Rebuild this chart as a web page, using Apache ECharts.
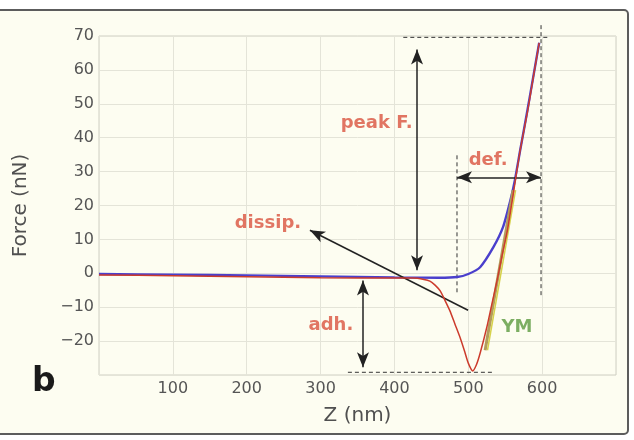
<!DOCTYPE html>
<html>
<head>
<meta charset="utf-8">
<script src="https://cdn.jsdelivr.net/npm/echarts@6/dist/echarts.min.js"></script>
<style>
	html, body { margin: 0; padding: 0; background: #ffffff; }
	#chart { width: 634px; height: 440px; }
</style>
</head>
<body>
<div id="chart"></div>
<script>
// approach curve (blue) : Z (nm) / Force (nN)
var approachZ = [0, 100, 200, 300, 400, 460, 485, 500, 516, 534, 547, 557, 563, 570, 580, 588, 596];
var approachF = [-0.2, -0.4, -0.6, -0.9, -1.2, -1.3, -1.1, -0.2, 1.8, 7.7, 13.6, 21.5, 27.4, 36, 48, 58, 68];

// retract curve (red)
var retractZ = [0, 100, 200, 300, 400, 425, 440, 448, 455, 462, 468, 475, 482, 489, 495, 500, 506, 511, 516, 525, 532, 539, 546, 553, 561, 570, 580, 588, 596];
var retractF = [-0.5, -0.7, -1.0, -1.3, -1.4, -1.4, -1.8, -2.3, -3.5, -5.2, -7.8, -11, -15, -19, -23, -26.5, -28.8, -27, -23.6, -16, -9, -2.1, 5.5, 12.7, 23.6, 36, 47.5, 57.8, 68];

// Young's modulus fit (two strokes)
var fitZ = [522.8, 560.7];
var fitF = [-22.7, 24.5];
var fit2Z = [526, 564];
var fit2F = [-22.7, 24.5];

// dashed guides : [z0, f0, z1, f1]
var guides = [
	[412, 69.6, 608, 69.6],
	[598.5, 73.2, 598.5, -6.5],
	[484.7, 34.8, 484.7, -5.6],
	[337, -29.2, 534, -29.2]
];

// arrows : [z0, f0, z1, f1, bothEnds]
var arrows = [
	[430.6, 0.9, 430.6, 66, true],
	[484.7, 28.3, 598.5, 28.3, true],
	[357.4, -2.1, 357.4, -27.7, true],
	[499.7, -10.9, 285.6, 12.7, false]
];

// annotation labels
var noteNames = ['peak F.', 'dissip.', 'def.', 'adh.', 'YM'];
var noteZ = [376, 228.7, 526.8, 314, 566];
var noteF = [44.2, 14.7, 33.3, -15.3, -15.9];

var xTicks = [0, 700, 100];
var yTicks = [-30, 70, 10];

function zip(xs, ys) {
	var out = [];
	for (var i = 0; i < xs.length; i++) {
		out.push([xs[i], ys[i]]);
	}
	return out;
}

function ForceCurve(divId) {
	var chartOption;
	var myChart = echarts.init(document.getElementById(divId));
	var noteRed = '#d9533f';

	function buildGuides() {
		var list = [];
		for (var i = 0; i < guides.length; i++) {
			var g = guides[i];
			list.push({
				type: 'line',
				data: [[g[0], g[1]], [g[2], g[3]]],
				symbol: 'none',
				clip: false,
				silent: true,
				z: 3,
				lineStyle: { color: '#333', width: 1, type: [4, 3] }
			});
		}
		return list;
	}

	function buildArrows() {
		var pairs = [];
		for (var i = 0; i < arrows.length; i++) {
			var a = arrows[i];
			pairs.push([
				{ coord: [a[0], a[1]], symbol: a[4] ? 'arrow' : 'none' },
				{ coord: [a[2], a[3]], symbol: 'arrow' }
			]);
		}
		return pairs;
	}

	function buildNotes() {
		var data = [];
		for (var i = 0; i < noteNames.length; i++) {
			var item = { value: [noteZ[i], noteF[i]], name: noteNames[i] };
			if (noteNames[i] == 'YM') {
				item.label = { color: '#5b9a3e' };
			}
			data.push(item);
		}
		return data;
	}

	function initOption() {
		var series = [
			{
				type: 'line',
				data: zip(approachZ, approachF),
				symbol: 'none',
				smooth: 0.2,
				z: 4,
				lineStyle: { color: '#4a3fcc', width: 2.4 },
				markLine: {
					silent: true,
					symbolSize: [9, 15],
					label: { show: false },
					lineStyle: { color: '#222', width: 1.5, type: 'solid' },
					data: buildArrows()
				}
			},
			{
				type: 'line',
				data: zip(fitZ, fitF),
				symbol: 'none',
				z: 5,
				lineStyle: { color: '#b39c5c', width: 3 }
			},
			{
				type: 'line',
				data: zip(fit2Z, fit2F),
				symbol: 'none',
				z: 5,
				lineStyle: { color: '#d6d24c', width: 1.5 }
			},
			{
				type: 'line',
				data: zip(retractZ, retractF),
				symbol: 'none',
				smooth: 0.2,
				z: 6,
				lineStyle: { color: '#cc3b2c', width: 1.5 }
			},
			{
				type: 'scatter',
				data: buildNotes(),
				symbolSize: 1,
				itemStyle: { color: 'rgba(0,0,0,0)' },
				z: 8,
				label: {
					show: true,
					position: 'inside',
					formatter: '{b}',
					color: noteRed,
					fontFamily: 'DejaVu Sans',
					fontWeight: 'bold',
					fontSize: 18
				}
			}
		].concat(buildGuides());

		chartOption = {
			animation: false,
			backgroundColor: '#ffffff',
			graphic: [
				{
					type: 'rect',
					z: -10,
					shape: { x: -4, y: 10, width: 632, height: 424, r: 4 },
					style: { fill: '#fdfdf1', stroke: '#5c5c5c', lineWidth: 2 }
				},
				{
					type: 'text',
					left: 32,
					top: 366,
					style: {
						text: 'b',
						fill: '#1a1a1a',
						font: 'bold 33px "DejaVu Sans"'
					}
				}
			],
			grid: {
				left: 99, top: 36, width: 517, height: 339,
				show: true, borderColor: '#cfcfc2', borderWidth: 1,
				backgroundColor: 'transparent'
			},
			xAxis: {
				type: 'value',
				min: xTicks[0], max: xTicks[1], interval: xTicks[2],
				name: 'Z (nm)',
				nameLocation: 'middle',
				nameGap: 31,
				nameTextStyle: { color: '#505050', fontSize: 20, fontFamily: 'DejaVu Sans' },
				axisLine: { show: false },
				axisTick: { show: false },
				axisLabel: {
					margin: 6,
					color: '#555',
					fontSize: 16,
					fontFamily: 'DejaVu Sans',
					formatter: function (v) {
						return (v == xTicks[0] || v == xTicks[1]) ? '' : String(v);
					}
				},
				splitLine: { lineStyle: { color: '#e4e4d8' } }
			},
			yAxis: {
				type: 'value',
				min: yTicks[0], max: yTicks[1], interval: yTicks[2],
				name: 'Force (nN)',
				nameLocation: 'middle',
				nameGap: 68,
				nameTextStyle: { color: '#505050', fontSize: 20, fontFamily: 'DejaVu Sans' },
				axisLine: { show: false },
				axisTick: { show: false },
				axisLabel: {
					margin: 5,
					color: '#555',
					fontSize: 16,
					fontFamily: 'DejaVu Sans',
					formatter: function (v) {
						return v == yTicks[0] ? '' : String(v).replace('-', '\u2212');
					}
				},
				splitLine: { lineStyle: { color: '#e4e4d8' } }
			},
			series: series
		};
	}

	this.draw = function () {
		myChart.setOption(chartOption);
	};

	// Constructor Code.
	initOption();
}

var chart = new ForceCurve('chart');
chart.draw();
</script>
</body>
</html>
